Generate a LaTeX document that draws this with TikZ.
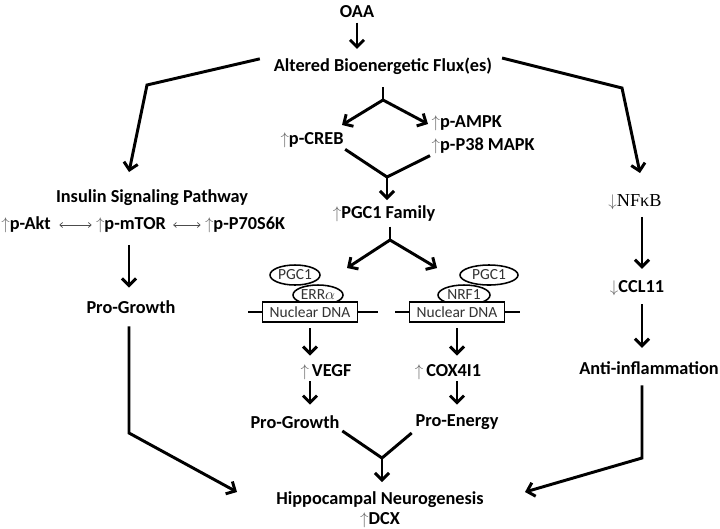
\documentclass[tikz,border=0pt]{standalone}
\usepackage{fontspec}
\setmainfont{Carlito}
\newfontfamily\nfserif{Liberation Serif}
\usetikzlibrary{positioning}
\usetikzlibrary{arrows.meta}
\usetikzlibrary{shapes.geometric}

\newcommand{\upar}{\textcolor{black!60}{$\uparrow$}}
\newcommand{\dnar}{\textcolor{black!60}{$\downarrow$}}

\tikzset{
  lbl/.style={font=\bfseries\fontsize{13}{14}\selectfont, inner sep=1pt},
  flow/.style={line width=2.1pt, -{Straight Barb[length=5pt,width=10pt]}},
  link/.style={line width=2.1pt},
  swap/.style={line width=0.5pt, black!70, {To[length=2.5pt,width=4pt]}-{To[length=2.5pt,width=4pt]}},
  blob/.style={ellipse, draw, line width=1.1pt, fill=white, inner sep=0pt,
    minimum height=0.5cm, font=\fontsize{11}{12}\selectfont, text=black!80},
  dnabox/.style={draw, line width=1.1pt, fill=white, inner sep=0pt,
    minimum width=2.375cm, minimum height=0.5cm, font=\fontsize{11}{12}\selectfont, text=black!80},
  dna/.style={line width=2pt},
}

\begin{document}
\begin{tikzpicture}[x=0.025cm, y=-0.025cm]
    \useasboundingbox (0,0) rectangle (720,528);

    % top
    \node[lbl] (oaa) at (357,12) {OAA};
    \node[lbl] (flux) at (383,66) {Altered Bioenergetic Flux(es)};
    \draw[flow, shorten <=2pt, shorten >=5pt] (oaa.south) -- (oaa.south |- flux.north);

    % centre branch
    \node[lbl] (creb) at (312,140) {\upar p-CREB};
    \node[lbl, anchor=west] (ampk) at (430,123) {\upar p-AMPK};
    \node[lbl, anchor=west] (p38) at (430,146) {\upar p-P38 MAPK};
    \node[lbl] (pgc) at (384,214) {\upar PGC1 Family};
    \coordinate (split1) at (383,100);
    \coordinate (crebTip) at (342,125);
    \coordinate (ampkTip) at (428,124);
    \coordinate (join1) at (387,177);
    \draw[link, shorten <=8pt] (flux.south -| split1) -- (split1);
    \draw[flow] (split1) -- (crebTip);
    \draw[flow] (split1) -- (ampkTip);
    \draw[link] (creb.south east) -- (join1);
    \draw[link] (p38.south west) -- (join1);
    \draw[flow, shorten >=3pt] (join1) -- (join1 |- pgc.north);

    \coordinate (split2) at (390,240);
    \coordinate (errTip) at (347,268);
    \coordinate (nrfTip) at (437,268);
    \draw[link, shorten <=2pt] (pgc.south -| split2) -- (split2);
    \draw[flow] (split2) -- (errTip);
    \draw[flow] (split2) -- (nrfTip);

    % transcription complexes
    \coordinate (dnaAl) at (248,312);
    \coordinate (dnaAr) at (378,312);
    \coordinate (dnaBl) at (395,312);
    \coordinate (dnaBr) at (520,312);
    \draw[dna] (dnaAl) -- (dnaAr);
    \draw[dna] (dnaBl) -- (dnaBr);
    \node[blob, minimum width=1.25cm] (pgcA) at (295,275) {PGC1};
    \node[blob, minimum width=1.25cm] (err) at (318,295) {ERR$\alpha$};
    \node[dnabox] (dnaA) at (310,312) {Nuclear DNA};
    \node[blob, minimum width=1.45cm] (pgcB) at (489,275) {PGC1};
    \node[blob, minimum width=1.3cm] (nrf) at (464,295) {NRF1};
    \node[dnabox] (dnaB) at (457,312) {Nuclear DNA};

    \node[lbl] (vegf) at (326,372) {\upar\,VEGF};
    \node[lbl] (cox) at (448,372) {\upar\,COX4I1};
    \node[lbl] (growthC) at (295,422) {Pro-Growth};
    \node[lbl] (energy) at (457,422) {Pro-Energy};
    \draw[flow, shorten <=4pt, shorten >=5pt] (dnaA.south) -- (dnaA.south |- vegf.north);
    \draw[flow, shorten <=4pt, shorten >=5pt] (dnaB.south) -- (dnaB.south |- cox.north);
    \draw[flow, shorten >=6.5pt] (dnaA.south |- vegf.south) -- (dnaA.south |- growthC.north);
    \draw[flow, shorten >=6.5pt] (dnaB.south |- cox.south) -- (dnaB.south |- growthC.north);

    % bottom
    \node[lbl, align=center, font=\bfseries\fontsize{13}{14}\selectfont, anchor=base, inner sep=0pt]
        (neuro) at (380,524) {Hippocampal Neurogenesis\\\upar DCX};
    \coordinate (join3) at (382,458);
    \draw[link, shorten <=1pt] (growthC.south east) -- (join3);
    \draw[link, shorten <=2pt] (energy.south west) -- (join3);
    \draw[flow, shorten >=6.5pt] (join3) -- (join3 |- neuro.north);

    % left branch
    \node[lbl] (insulin) at (152,198) {Insulin Signaling Pathway};
    \node[lbl] (akt) at (26,225) {\upar p-Akt};
    \node[lbl] (mtor) at (131,225) {\upar p-mTOR};
    \node[lbl] (p70) at (245,225) {\upar p-P70S6K};
    \node[lbl] (growthL) at (131,307) {Pro-Growth};
    \coordinate (bendL) at (147,85);
    \coordinate (insTip) at (129,172);
    \coordinate (downL) at (129,433);
    \coordinate (neuroL) at (237,492);
    \draw[flow, shorten <=9pt] (flux.north west) -- (bendL) -- (insTip);
    \draw[swap, shorten <=5pt, shorten >=2pt] (akt) -- (mtor);
    \draw[swap, shorten <=4pt, shorten >=2pt] (mtor) -- (p70);
    \draw[flow, shorten <=7.5pt, shorten >=8pt] (mtor.south -| downL) -- (growthL.north -| downL);
    \draw[flow, shorten <=8pt] (growthL.south -| downL) -- (downL) -- (neuroL);

    % right branch
    \node[lbl, font=\nfserif\fontsize{13}{14}\selectfont] (nfkb) at (635,202) {\dnar NFκB};
    \node[lbl] (ccl) at (637,288) {\dnar CCL11};
    \node[lbl] (anti) at (649,368) {Anti-inflammation};
    \coordinate (bendR) at (622,88);
    \coordinate (nfkbTip) at (640,173);
    \coordinate (downR) at (642,458);
    \coordinate (neuroR) at (525,492);
    \draw[flow, shorten <=6pt] (flux.north east) -- (bendR) -- (nfkbTip);
    \draw[flow, shorten <=4pt, shorten >=7pt] (nfkb.south -| downR) -- (ccl.north -| downR);
    \draw[flow, shorten <=5pt, shorten >=8.5pt] (ccl.south -| downR) -- (anti.north -| downR);
    \draw[flow, shorten <=6.5pt] (anti.south -| downR) -- (downR) -- (neuroR);
\end{tikzpicture}
\end{document}
